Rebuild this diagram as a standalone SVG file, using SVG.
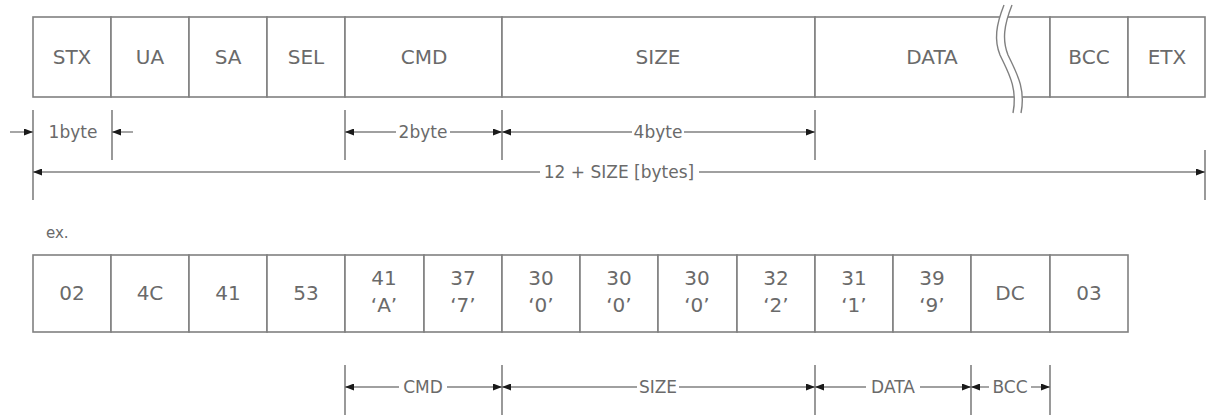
<svg xmlns="http://www.w3.org/2000/svg" width="1208" height="417" viewBox="0 0 1208 417">
<style>
.box{fill:#fff;stroke:#808080;stroke-width:1.6}
.lbl{font-family:"DejaVu Sans",sans-serif;font-size:20px;fill:#6a6a6a;text-anchor:middle}
.dim{font-family:"DejaVu Sans",sans-serif;font-size:17px;fill:#6a6a6a;text-anchor:middle}
.tick{stroke:#808080;stroke-width:1.6}
.dl{stroke:#808080;stroke-width:1.4;fill:none}
.ar{marker-end:url(#ah)}
</style>
<defs>
<marker id="ah" viewBox="0 0 9 7" refX="9" refY="3.5" markerWidth="9" markerHeight="7" markerUnits="userSpaceOnUse" orient="auto">
<path d="M0,0 L9,3.5 L0,7 z" fill="#1a1a1a"/>
</marker>
</defs>
<rect width="1208" height="417" fill="#fff"/>

<g id="frame-top">
<g id="f-stx"><rect class="box" x="33" y="17" width="78" height="80"/><text class="lbl" x="72" y="64">STX</text></g>
<g id="f-ua"><rect class="box" x="111" y="17" width="78" height="80"/><text class="lbl" x="150" y="64">UA</text></g>
<g id="f-sa"><rect class="box" x="189" y="17" width="78" height="80"/><text class="lbl" x="228" y="64">SA</text></g>
<g id="f-sel"><rect class="box" x="267" y="17" width="78" height="80"/><text class="lbl" x="306" y="64">SEL</text></g>
<g id="f-cmd"><rect class="box" x="345" y="17" width="157" height="80"/><text class="lbl" x="424" y="64">CMD</text></g>
<g id="f-size"><rect class="box" x="502" y="17" width="313" height="80"/><text class="lbl" x="658" y="64">SIZE</text></g>
<g id="f-data"><rect class="box" x="815" y="17" width="235" height="80"/><text class="lbl" x="932" y="64">DATA</text></g>
<g id="f-bcc"><rect class="box" x="1050" y="17" width="78" height="80"/><text class="lbl" x="1089" y="64">BCC</text></g>
<g id="f-etx"><rect class="box" x="1128" y="17" width="77" height="80"/><text class="lbl" x="1167" y="64">ETX</text></g>
<g id="break">
<path d="M1004,5 C996,25 994,40 1000,55 C1008,72 1018,88 1013,113 L1021,113 C1026,88 1016,72 1008,55 C1002,40 1004,25 1012,5 Z" fill="#fff" stroke="none"/>
<path class="dl" d="M1004,5 C996,25 994,40 1000,55 C1008,72 1018,88 1013,113"/>
<path class="dl" d="M1012,5 C1004,25 1002,40 1008,55 C1016,72 1026,88 1021,113"/>
</g>
</g>

<text x="46" y="238" font-family="DejaVu Sans, sans-serif" font-size="15" fill="#6a6a6a">ex.</text>

<g id="frame-ex">
<g id="e0"><rect class="box" x="33" y="255" width="78" height="77"/><text class="lbl" x="72" y="300">02</text></g>
<g id="e1"><rect class="box" x="111" y="255" width="78" height="77"/><text class="lbl" x="150" y="300">4C</text></g>
<g id="e2"><rect class="box" x="189" y="255" width="78" height="77"/><text class="lbl" x="228" y="300">41</text></g>
<g id="e3"><rect class="box" x="267" y="255" width="78" height="77"/><text class="lbl" x="306" y="300">53</text></g>
<g id="e4"><rect class="box" x="345" y="255" width="79" height="77"/><text class="lbl" x="384" y="285">41</text><text class="lbl" x="384" y="312">‘A’</text></g>
<g id="e5"><rect class="box" x="424" y="255" width="78" height="77"/><text class="lbl" x="463" y="285">37</text><text class="lbl" x="463" y="312">‘7’</text></g>
<g id="e6"><rect class="box" x="502" y="255" width="78" height="77"/><text class="lbl" x="541" y="285">30</text><text class="lbl" x="541" y="312">‘0’</text></g>
<g id="e7"><rect class="box" x="580" y="255" width="78" height="77"/><text class="lbl" x="619" y="285">30</text><text class="lbl" x="619" y="312">‘0’</text></g>
<g id="e8"><rect class="box" x="658" y="255" width="79" height="77"/><text class="lbl" x="697" y="285">30</text><text class="lbl" x="697" y="312">‘0’</text></g>
<g id="e9"><rect class="box" x="737" y="255" width="78" height="77"/><text class="lbl" x="776" y="285">32</text><text class="lbl" x="776" y="312">‘2’</text></g>
<g id="e10"><rect class="box" x="815" y="255" width="78" height="77"/><text class="lbl" x="854" y="285">31</text><text class="lbl" x="854" y="312">‘1’</text></g>
<g id="e11"><rect class="box" x="893" y="255" width="78" height="77"/><text class="lbl" x="932" y="285">39</text><text class="lbl" x="932" y="312">‘9’</text></g>
<g id="e12"><rect class="box" x="971" y="255" width="79" height="77"/><text class="lbl" x="1010" y="300">DC</text></g>
<g id="e13"><rect class="box" x="1050" y="255" width="78" height="77"/><text class="lbl" x="1089" y="300">03</text></g>
</g>

<g id="connectors">
<line class="tick" x1="33" y1="110" x2="33" y2="200"/>
<line class="tick" x1="112" y1="110" x2="112" y2="160"/>
<line class="tick" x1="345" y1="110" x2="345" y2="160"/>
<line class="tick" x1="502" y1="110" x2="502" y2="160"/>
<line class="tick" x1="815" y1="110" x2="815" y2="160"/>
<line class="tick" x1="1205" y1="150" x2="1205" y2="200"/>

<line class="dl ar" x1="10" y1="132" x2="33" y2="132"/>
<line class="dl ar" x1="133" y1="132" x2="112" y2="132"/>
<text class="dim" x="73" y="138">1byte</text>

<line class="dl ar" x1="396" y1="132" x2="345" y2="132"/>
<line class="dl ar" x1="450" y1="132" x2="502" y2="132"/>
<text class="dim" x="423" y="138">2byte</text>

<line class="dl ar" x1="632" y1="132" x2="502" y2="132"/>
<line class="dl ar" x1="684" y1="132" x2="815" y2="132"/>
<text class="dim" x="658" y="138">4byte</text>

<line class="dl ar" x1="540" y1="172" x2="33" y2="172"/>
<line class="dl ar" x1="699" y1="172" x2="1205" y2="172"/>
<text class="dim" x="619" y="178" font-size="17.5">12 + SIZE [bytes]</text>

<line class="tick" x1="345" y1="365" x2="345" y2="415"/>
<line class="tick" x1="502" y1="365" x2="502" y2="415"/>
<line class="tick" x1="815" y1="365" x2="815" y2="415"/>
<line class="tick" x1="971" y1="365" x2="971" y2="415"/>
<line class="tick" x1="1050" y1="365" x2="1050" y2="415"/>

<line class="dl ar" x1="399" y1="387" x2="345" y2="387"/>
<line class="dl ar" x1="447" y1="387" x2="502" y2="387"/>
<text class="dim" x="423" y="393">CMD</text>

<line class="dl ar" x1="637" y1="387" x2="502" y2="387"/>
<line class="dl ar" x1="679" y1="387" x2="815" y2="387"/>
<text class="dim" x="658" y="393">SIZE</text>

<line class="dl ar" x1="866" y1="387" x2="815" y2="387"/>
<line class="dl ar" x1="920" y1="387" x2="971" y2="387"/>
<text class="dim" x="893" y="393">DATA</text>

<line class="dl ar" x1="989" y1="387" x2="971" y2="387"/>
<line class="dl ar" x1="1031" y1="387" x2="1050" y2="387"/>
<text class="dim" x="1010" y="393">BCC</text>
</g>
</svg>
